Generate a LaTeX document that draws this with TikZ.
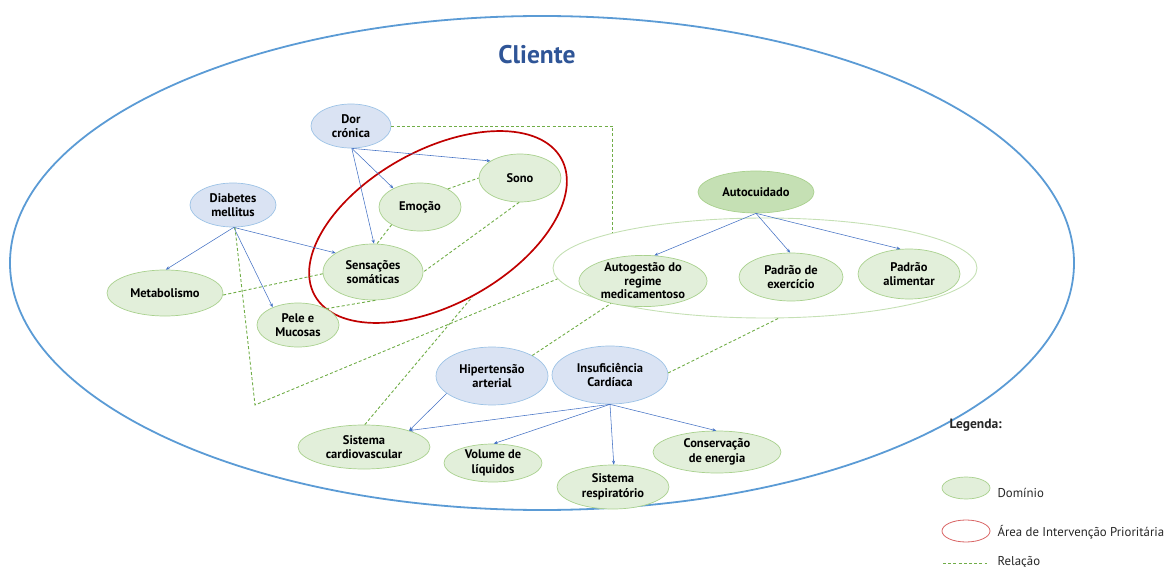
\documentclass[tikz,border=0pt]{standalone}
\usepackage{fontspec}
\setmainfont{PT Sans}
\usetikzlibrary{shapes.geometric,arrows.meta}
\definecolor{cliblue}{HTML}{5B9BD5}
\definecolor{titblue}{HTML}{2F5597}
\definecolor{gfill}{HTML}{E2EFDA}
\definecolor{gdark}{HTML}{C5E0B4}
\definecolor{gline}{HTML}{A9D18E}
\definecolor{bfill}{HTML}{DAE3F3}
\definecolor{bline}{HTML}{9DC3E6}
\definecolor{prio}{HTML}{C00000}
\definecolor{relgreen}{HTML}{70AD47}
\definecolor{arrblue}{HTML}{4472C4}
\tikzset{
  dom/.style={ellipse, draw=gline, fill=gfill, line width=0.7pt, inner sep=0pt, align=center,
    font=\bfseries\fontsize{12.5}{14.5}\selectfont},
  diag/.style={dom, draw=bline, fill=bfill},
  rel/.style={draw=relgreen, line width=0.9pt, dash pattern=on 3pt off 2.2pt},
  arr/.style={draw=arrblue, line width=0.55pt, -{Stealth[length=4pt,width=3.2pt]}},
  legtext/.style={anchor=west, font=\fontsize{12.8}{14}\selectfont, text=black!85}
}
\begin{document}
\begin{tikzpicture}[x=1pt,y=-1pt]
\useasboundingbox (0,0) rectangle (1165,567);
% client ellipse
\node[ellipse, draw=cliblue, line width=1.8pt, minimum width=1064pt, minimum height=494pt, inner sep=0pt] (cli) at (542,263) {};
\node[font=\bfseries\fontsize{25.5}{28}\selectfont, text=titblue] (clitxt) at (537,55) {Cliente};
% priority area
\node[ellipse, draw=prio, line width=1.7pt, rotate=29, minimum width=282pt, minimum height=154pt, inner sep=0pt] (prioa) at (438,227) {};
% autocuidado outline
\node[ellipse, draw=gdark, line width=0.9pt, minimum width=424pt, minimum height=100pt, inner sep=0pt] (outl) at (765,268) {};
% nodes
\node[diag, minimum width=80pt, minimum height=44pt] (dor) at (351,126) {Dor\\crónica};
\node[diag, minimum width=86pt, minimum height=44pt] (diab) at (233,205) {Diabetes\\mellitus};
\node[dom, minimum width=82pt, minimum height=48pt] (emo) at (420,207) {Emoção};
\node[dom, minimum width=82pt, minimum height=48pt] (sono) at (520,178) {Sono};
\node[dom, minimum width=100pt, minimum height=56pt] (sens) at (373,272) {Sensações\\somáticas};
\node[dom, minimum width=116pt, minimum height=46pt] (meta) at (165,293) {Metabolismo};
\node[dom, minimum width=82pt, minimum height=44pt] (pele) at (298,325) {Pele e\\Mucosas};
\node[dom, fill=gdark, minimum width=116pt, minimum height=42pt] (auto) at (756,192) {Autocuidado};
\node[dom, minimum width=128pt, minimum height=50pt, font=\bfseries\fontsize{12.5}{13.5}\selectfont] (ag) at (643,281) {Autogestão do\\regime\\medicamentoso};
\node[dom, minimum width=104pt, minimum height=48pt] (pe) at (791,277) {Padrão de\\exercício};
\node[dom, minimum width=102pt, minimum height=50pt] (pa) at (909,274) {Padrão\\alimentar};
\node[diag, minimum width=112pt, minimum height=58pt] (hip) at (492,376) {Hipertensão\\arterial};
\node[diag, minimum width=116pt, minimum height=58pt] (ins) at (610,375) {Insuficiência\\Cardíaca};
\node[dom, minimum width=132pt, minimum height=44pt] (scv) at (364,447) {Sistema\\cardiovascular};
\node[dom, minimum width=98pt, minimum height=38pt] (vol) at (493,463) {Volume de\\líquidos};
\node[dom, minimum width=112pt, minimum height=44pt] (resp) at (613,487) {Sistema\\respiratório};
\node[dom, minimum width=128pt, minimum height=42pt] (cons) at (717,452) {Conservação\\de energia};
% blue arrows
\draw[arr] (dor.-88) -- (emo.145);
\draw[arr] (dor.-88) -- (sono.150);
\draw[arr] (dor.-88) -- (sens.88);
\draw[arr] (diab.-88) -- (meta.88);
\draw[arr] (diab.-88) -- (pele.145);
\draw[arr] (diab.-88) -- (sens.153);
\draw[arr] (auto.-90) -- (ag.66);
\draw[arr] (auto.-90) -- (pe.92);
\draw[arr] (auto.-90) -- (pa.109);
\draw[arr] (hip.-159) -- (scv.20);
\draw[arr] (ins.-90) -- (scv.20);
\draw[arr] (ins.-90) -- (vol.88);
\draw[arr] (ins.-90) -- (resp.88);
\draw[arr] (ins.-90) -- (cons.92);
% relations
\coordinate (tri) at (255,405);
\draw[rel] (dor.0) -| (outl.167);
\draw[rel] (emo.-148) -- (sens.82);
\draw[rel] (emo.33) -- (sono.180);
\draw[rel] (sono.-92) -- (sens.0);
\draw[rel] (sens.-178) -- (meta.-2);
\draw[rel] (pele.30) -- (sens.-85);
\draw[rel] (diab.-85) -- (tri) -- (outl.183);
\draw[rel] (scv.88) -- (prioa.-93);
\draw[rel] (hip.27) -- (ag.-145);
\draw[rel] (ins.2) -- (outl.-75);
% legend
\node[anchor=west, font=\bfseries\fontsize{13.5}{15}\selectfont, text=black!85] (legt) at (946,425) {Legenda:};
\node[ellipse, draw=gline, fill=gfill, line width=0.7pt, minimum width=48pt, minimum height=22pt, inner sep=0pt] (leg1) at (966,488) {};
\node[legtext] (leg1t) at (994,493) {Domínio};
\node[ellipse, draw=prio!60, line width=0.8pt, minimum width=48pt, minimum height=22pt, inner sep=0pt] (leg2) at (966,531) {};
\node[legtext] (leg2t) at (994,532) {Área de Intervenção Prioritária};
\coordinate (leg3a) at (943,563);
\coordinate (leg3b) at (987,563);
\draw[rel] (leg3a) -- (leg3b);
\node[legtext] (leg3t) at (994,562) {Relação};
\end{tikzpicture}
\end{document}
